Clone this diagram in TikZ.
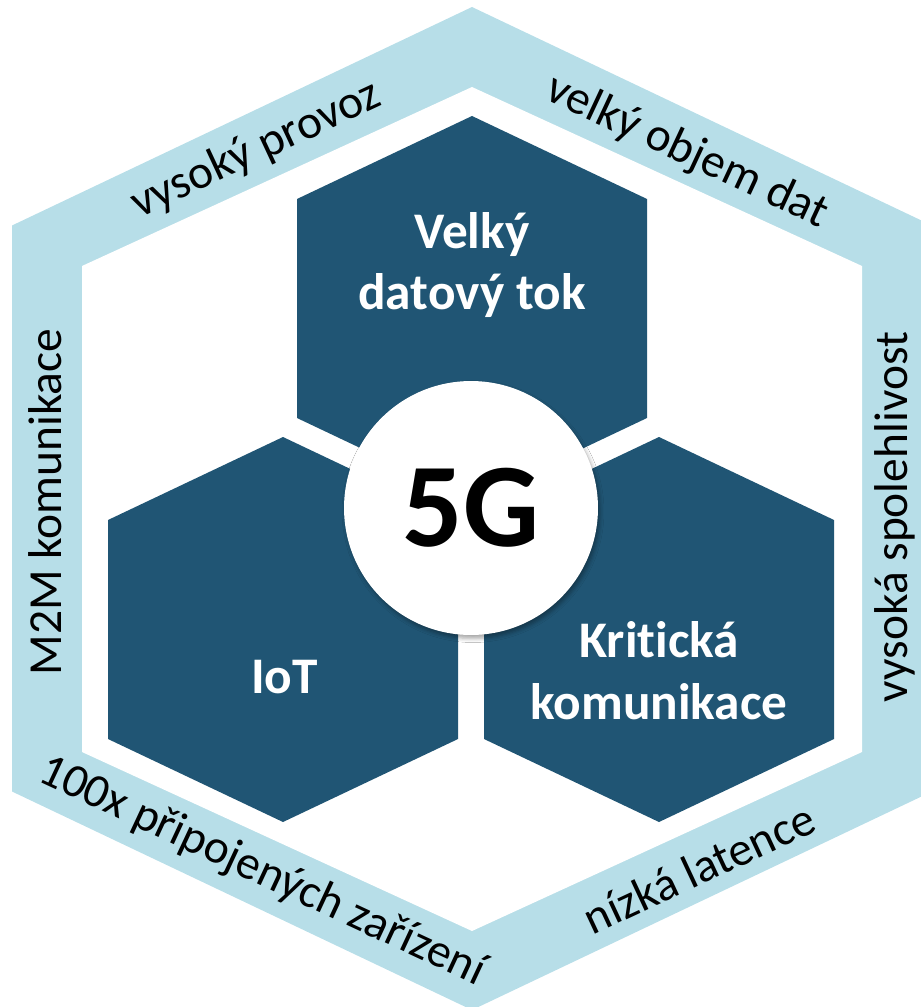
\documentclass[tikz,border=0pt]{standalone}
\usepackage{fontspec}
\setmainfont[Ligatures=NoCommon]{Carlito}
\usetikzlibrary{shadows.blur}
\definecolor{bandblue}{RGB}{183,222,232}
\definecolor{hexblue}{RGB}{32,85,116}
\tikzset{
  bandtext/.style={font=\fontsize{27}{32}\selectfont, text=black, inner sep=0pt},
  hextext/.style={font=\fontsize{29.2}{35}\selectfont\bfseries, text=white, align=center, inner sep=0pt},
}
\begin{document}
\begin{tikzpicture}[x=0.02cm,y=-0.02cm]
    \useasboundingbox (0,0) rectangle (920,1007);
    %% outer band
    \fill[bandblue] (472,7) -- (932,225.5) -- (932,791.5) -- (472,1010) -- (12,791.5) -- (12,225.5) -- cycle;
    %% white inside
    \fill[white] (472,87) -- (862,266) -- (862,752) -- (472,931) -- (82,752) -- (82,266) -- cycle;
    %% three cells
    \foreach \cx/\cy in {472/308.5, 283/629.5, 659/629.5}
        \fill[hexblue] (\cx,\cy) ++(0,-192.5) -- ++(175,83) -- ++(0,219) -- ++(-175,83) -- ++(-175,-83) -- ++(0,-219) -- cycle;
    %% cell labels
    \node[hextext] (tok) at (472,265) {Velký\\datový tok};
    \node[hextext] (iot) at (284.5,677.5) {IoT};
    \node[hextext] (krit) at (659,670.5) {Kritická\\komunikace};
    %% centre
    \node[circle, fill=white, minimum size=5.08cm, inner sep=0pt,
          blur shadow={shadow xshift=0.4mm, shadow yshift=-0.7mm, shadow blur radius=0.8mm, shadow opacity=35},
          font=\fontsize{68}{70}\selectfont\bfseries] (fiveg) at (471,508) {5G};
    %% band labels
    \node[bandtext, rotate=25] (provoz) at (256,150) {vysoký provoz};
    \node[bandtext, rotate=-25] (objem) at (687,152) {velký objem dat};
    \node[bandtext, rotate=90] (m2m) at (45,502) {M2M komunikace};
    \node[bandtext, rotate=90] (spol) at (895,517) {vysoká spolehlivost};
    \node[bandtext, rotate=-25] (zariz) at (262,872) {100x připojených zařízení};
    \node[bandtext, rotate=25] (lat) at (699,868) {nízká latence};
\end{tikzpicture}
\end{document}
